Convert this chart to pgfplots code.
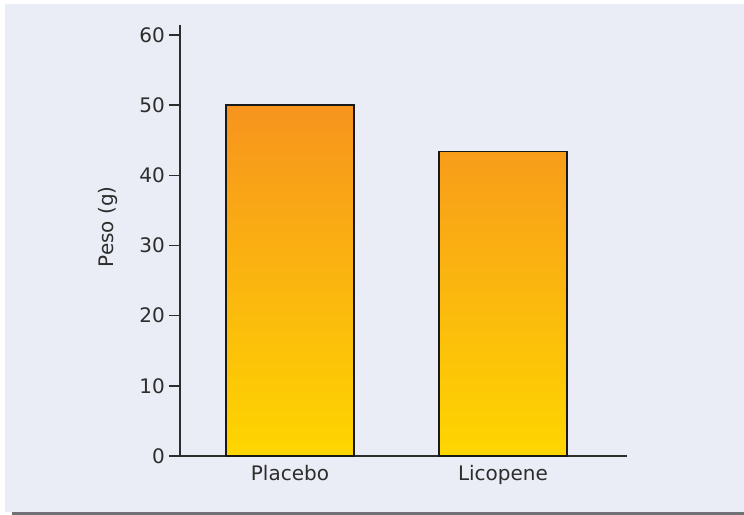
\documentclass[border=0pt]{standalone}
\usepackage{pgfplots}
\pgfplotsset{compat=1.18}
\usepackage{fontspec}
\setmainfont{DejaVu Sans}

\definecolor{bgpanel}{RGB}{234,237,245}
\definecolor{rulegray}{RGB}{112,112,118}
\definecolor{bartop}{RGB}{247,148,30}
\definecolor{barbot}{RGB}{254,214,0}
\definecolor{txt}{RGB}{45,45,45}

\begin{document}
\begin{tikzpicture}
% panel and bottom rule
\path[use as bounding box] (0bp,0bp) rectangle (744bp,-515bp);
\fill[bgpanel] (5bp,-4bp) rectangle (744bp,-512bp);
\fill[rulegray] (12bp,-512bp) rectangle (744bp,-515bp);
\begin{axis}[
  at={(180bp,-456bp)}, anchor=south west,
  scale only axis, width=447bp, height=431bp,
  xmin=-0.516, xmax=1.582, ymin=0, ymax=61.42,
  axis lines*=left,
  axis line style={line width=1.5bp, color=txt},
  font=\fontsize{20bp}{24bp}\selectfont,
  /pgf/number format/assume math mode=true,
  ytick={0,10,...,60},
  xtick={0,1}, xticklabels={Placebo,Licopene},
  major tick length=11bp,
  tick align=outside,
  ytick style={line width=1.5bp, color=txt},
  xtick style={draw=none},
  y tick label style={text=txt, inner sep=0bp, xshift=-4bp},
  x tick label style={text=txt, inner sep=0bp, yshift=1.5bp},
  ylabel={Peso (g)},
  ylabel style={at={(axis description cs:-0.161,0.532)}, anchor=center, rotate=0, text=txt},
  ybar, bar width=128bp, bar shift=0pt,
]
\addplot[draw=black!90, line width=1.5bp, top color=bartop, bottom color=barbot]
  coordinates {(0,50.0) (1,43.4)};
\end{axis}
\end{tikzpicture}
\end{document}
